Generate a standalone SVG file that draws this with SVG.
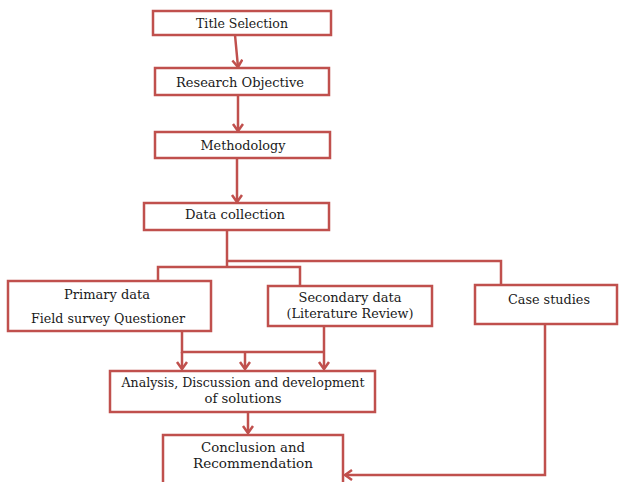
<svg xmlns="http://www.w3.org/2000/svg" width="620" height="482" viewBox="0 0 620 482">
<style>
.box{fill:#fff;stroke:#c0504d;stroke-width:2.5}
.c{fill:none;stroke:#c0504d;stroke-width:2.5}
.t{font-family:'DejaVu Serif','Liberation Serif',serif;font-size:13px;fill:#1a1a1a;text-anchor:middle}
</style>
<defs>
<marker id="ah" markerUnits="userSpaceOnUse" markerWidth="14" markerHeight="14" refX="9" refY="6" orient="auto">
<path d="M2,1 L9,6 L2,11" fill="none" stroke="#c0504d" stroke-width="2.5"/>
</marker>
</defs>
<g id="connectors">
<path class="c" d="M235,35 L238,67" marker-end="url(#ah)"/>
<path class="c" d="M238,95 L238,131" marker-end="url(#ah)"/>
<path class="c" d="M237,158 L237,202" marker-end="url(#ah)"/>
<path class="c" d="M227,230 L227,267"/>
<path class="c" d="M227,261 L501,261 L501,285"/>
<path class="c" d="M158,281 L158,267 L300,267 L300,286"/>
<path class="c" d="M182,331 L182,352 L324,352"/>
<path class="c" d="M324,326 L324,352"/>
<path class="c" d="M182,352 L182,369" marker-end="url(#ah)"/>
<path class="c" d="M245,352 L245,369" marker-end="url(#ah)"/>
<path class="c" d="M324,352 L324,369" marker-end="url(#ah)"/>
<path class="c" d="M248,412 L248,433" marker-end="url(#ah)"/>
<path class="c" d="M545,324 L545,475 L345,475" marker-end="url(#ah)"/>
</g>
<g id="title">
<rect class="box" x="153" y="11" width="178" height="24"/>
<text class="t" x="242" y="28" textLength="92" lengthAdjust="spacingAndGlyphs">Title Selection</text>
</g>
<g id="objective">
<rect class="box" x="155" y="68" width="174" height="27"/>
<text class="t" x="240" y="87" textLength="128" lengthAdjust="spacingAndGlyphs">Research Objective</text>
</g>
<g id="methodology">
<rect class="box" x="155" y="132" width="175" height="26"/>
<text class="t" x="243" y="150" textLength="85" lengthAdjust="spacingAndGlyphs">Methodology</text>
</g>
<g id="datacollection">
<rect class="box" x="144" y="203" width="185" height="27"/>
<text class="t" x="235" y="219" textLength="100" lengthAdjust="spacingAndGlyphs">Data collection</text>
</g>
<g id="primary">
<rect class="box" x="8" y="281" width="203" height="50"/>
<text class="t" x="107" y="299" textLength="86" lengthAdjust="spacingAndGlyphs">Primary data</text>
<text class="t" x="108" y="323" textLength="154" lengthAdjust="spacingAndGlyphs">Field survey Questioner</text>
</g>
<g id="secondary">
<rect class="box" x="268" y="286" width="164" height="40"/>
<text class="t" x="350" y="302" textLength="103" lengthAdjust="spacingAndGlyphs">Secondary data</text>
<text class="t" x="350" y="318" textLength="127" lengthAdjust="spacingAndGlyphs">(Literature Review)</text>
</g>
<g id="casestudies">
<rect class="box" x="475" y="285" width="142" height="39"/>
<text class="t" x="549" y="304" textLength="82" lengthAdjust="spacingAndGlyphs">Case studies</text>
</g>
<g id="analysis">
<rect class="box" x="110" y="371" width="265" height="41"/>
<text class="t" x="243" y="387" textLength="243" lengthAdjust="spacingAndGlyphs">Analysis, Discussion and development</text>
<text class="t" x="243" y="403" textLength="77" lengthAdjust="spacingAndGlyphs">of solutions</text>
</g>
<g id="conclusion">
<rect class="box" x="163" y="435" width="180" height="52"/>
<text class="t" x="253" y="452" textLength="104" lengthAdjust="spacingAndGlyphs">Conclusion and</text>
<text class="t" x="253" y="468" textLength="120" lengthAdjust="spacingAndGlyphs">Recommendation</text>
</g>
</svg>
